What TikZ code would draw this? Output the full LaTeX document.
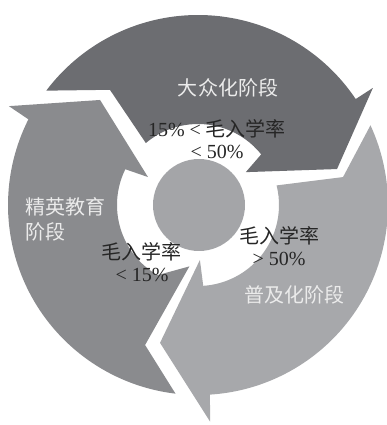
\documentclass[tikz,border=0pt]{standalone}
\usepackage{fontspec}
\setmainfont{Liberation Serif}
\newfontfamily\cjk{Noto Sans CJK SC}
\definecolor{bandtop}{HTML}{6C6D71}
\definecolor{bandleft}{HTML}{8A8B8E}
\definecolor{bandlow}{HTML}{A7A8AB}
\definecolor{hubgray}{HTML}{A4A5A8}
\begin{document}
\begin{tikzpicture}[x=1pt,y=1pt,
		stagetext/.style={text=white!92!black,font=\fontsize{20}{25}\selectfont\cjk,align=left,inner sep=0pt},
		ratetext/.style={text=black!85,font=\fontsize{20}{22}\selectfont,align=center,inner sep=0pt}]
		\useasboundingbox (-198,-220) rectangle (189,205);
		
		% upper band
		\fill[bandtop] (143:190pt) -- (127.4:145pt) -- (130.1:81pt)
			arc[start angle=130.1,end angle=38.7,radius=81pt] -- (34.5:58pt)
			-- (14.5:143.6pt) -- (33.8:210.5pt) -- (33.9:190pt)
			arc[start angle=33.9,end angle=143,radius=190pt] -- cycle;
		
		% lower right band
		\fill[bandlow] (24.8:190pt) -- (10.9:147.7pt) -- (14:81pt)
			arc[start angle=14,end angle=-86.3,radius=81pt] -- (-88:55pt)
			-- (-105.4:143pt) -- (-86.8:217pt) -- (-86.4:190pt)
			arc[start angle=-86.4,end angle=24.8,radius=190pt] -- cycle;
		
		% left band
		\fill[bandleft] (153.2:190pt) -- (152.4:213.4pt) -- (133:143.6pt)
			-- (150.8:57.3pt) -- (153.8:81pt)
			arc[start angle=153.8,end angle=240,radius=81pt] -- (262:62pt)
			-- (249.3:149.7pt) -- (263.2:190pt)
			arc[start angle=263.2,end angle=153.2,radius=190pt] -- cycle;
		
		% hub
		\fill[hubgray] (1,0) circle[radius=46pt];
		
		\node[stagetext] (mass) at (30,117) {大众化阶段};
		\node[stagetext,anchor=west] (elite) at (-173,-14) {精英教育\\阶段};
		\node[stagetext] (universal) at (96,-90) {普及化阶段};
		
		\node[ratetext] (massrate) at (19,66) {15\% < {\cjk 毛入学率}\\< 50\%};
		\node[ratetext] (eliterate) at (-56,-57) {{\cjk 毛入学率}\\< 15\%};
		\node[ratetext] (universalrate) at (81,-41) {{\cjk 毛入学率}\\> 50\%};
	\end{tikzpicture}
\end{document}
